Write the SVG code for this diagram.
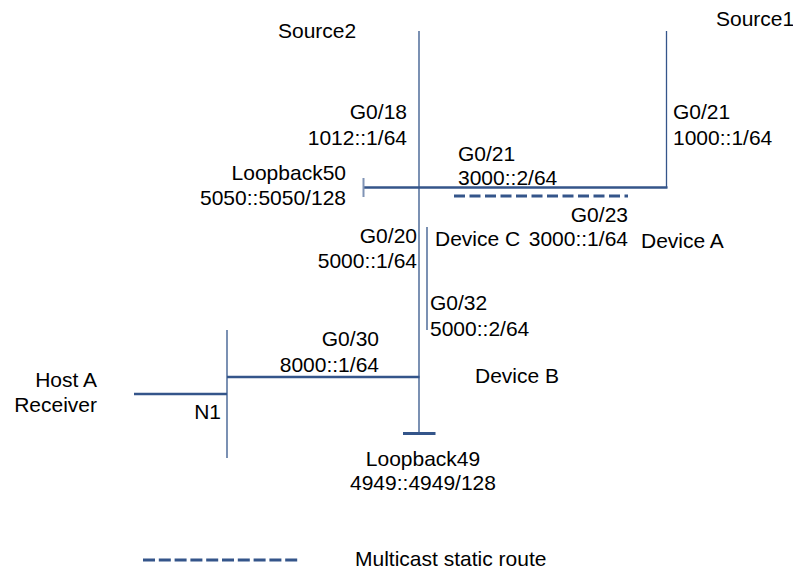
<svg xmlns="http://www.w3.org/2000/svg" width="793" height="569" viewBox="0 0 793 569">
<style>
text{font-family:"Liberation Sans",Arial,sans-serif;font-size:21px;fill:#000}
.e{text-anchor:end}
.m{text-anchor:middle}
.thin{stroke:#34558a;stroke-width:1.3;fill:none}
.thick{stroke:#34558a;stroke-width:2.5;fill:none}
.tick{stroke:#7f93b5;stroke-width:2;fill:none}
.dash{stroke:#34558a;stroke-width:3;stroke-dasharray:11 4.5;fill:none}
</style>
<rect width="793" height="569" fill="#fff"/>
<g id="connectors">
<line class="thin" x1="419" y1="31" x2="419" y2="434"/>
<line class="thin" x1="666.5" y1="31" x2="666.5" y2="188"/>
<line class="thick" x1="364" y1="187.5" x2="667.5" y2="187.5"/>
<line class="tick" x1="363.5" y1="178" x2="363.5" y2="197"/>
<line class="dash" x1="454" y1="196" x2="628" y2="196"/>
<line class="thin" x1="427" y1="227" x2="427" y2="330"/>
<line class="thick" x1="227" y1="377" x2="419.5" y2="377"/>
<line class="thin" x1="227" y1="330" x2="227" y2="458"/>
<line class="thick" x1="134" y1="394" x2="227" y2="394"/>
<line class="thick" x1="403" y1="433.5" x2="435.5" y2="433.5" style="stroke-width:3"/>
</g>
<g id="source2"><text x="278" y="38">Source2</text></g>
<g id="source1"><text x="716" y="26">Source1</text></g>
<g id="deviceC">
<text class="e" x="407" y="119">G0/18</text>
<text class="e" x="407" y="145">1012::1/64</text>
<text x="458" y="161">G0/21</text>
<text x="458" y="185">3000::2/64</text>
<text class="e" x="417" y="243">G0/20</text>
<text class="e" x="417" y="268">5000::1/64</text>
<text x="435" y="246">Device C</text>
</g>
<g id="loopback50">
<text class="e" x="346" y="180">Loopback50</text>
<text class="e" x="346" y="205">5050::5050/128</text>
</g>
<g id="deviceA">
<text x="673" y="119">G0/21</text>
<text x="673" y="145">1000::1/64</text>
<text class="e" x="628" y="222">G0/23</text>
<text class="e" x="628" y="246">3000::1/64</text>
<text x="641" y="248">Device A</text>
</g>
<g id="deviceB">
<text x="430" y="310">G0/32</text>
<text x="430" y="336">5000::2/64</text>
<text class="e" x="379" y="346">G0/30</text>
<text class="e" x="379" y="372">8000::1/64</text>
<text x="475" y="383">Device B</text>
</g>
<g id="loopback49">
<text class="m" x="423" y="466">Loopback49</text>
<text class="m" x="423" y="490">4949::4949/128</text>
</g>
<g id="n1"><text class="e" x="221" y="419">N1</text></g>
<g id="hostA">
<text class="e" x="97" y="387">Host A</text>
<text class="e" x="97" y="412">Receiver</text>
</g>
<g id="legend">
<line class="dash" x1="143" y1="560" x2="298" y2="560" style="stroke-dasharray:12 3.8"/>
<text x="355" y="566">Multicast static route</text>
</g>
</svg>
